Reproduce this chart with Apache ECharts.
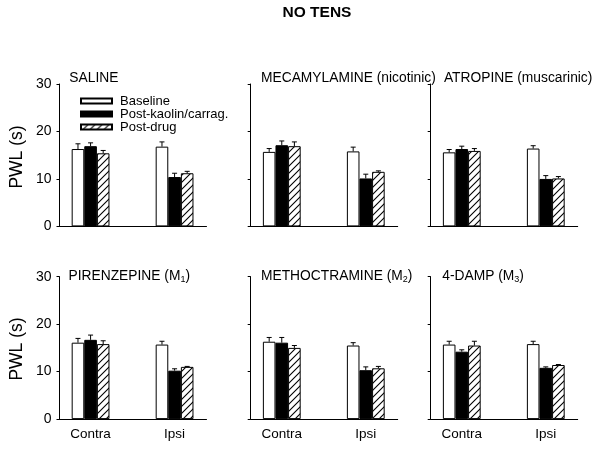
<!DOCTYPE html>
<html>
<head>
<meta charset="utf-8">
<script src="https://cdn.jsdelivr.net/npm/echarts@6/dist/echarts.min.js"></script>
<style>
html,body{margin:0;padding:0;background:#fff;}
#chart{width:600px;height:451px;}
</style>
</head>
<body>
<div id="chart"></div>
<script>
// ---------- DATA ----------
const categories = ['Contra', 'Ipsi'];
const seriesNames = ['Baseline', 'Post-kaolin/carrag.', 'Post-drug'];
const yTicks = [0, 10, 20, 30];
const panelTitles = [
  '{n|SALINE}',
  '{n|MECAMYLAMINE (nicotinic)}',
  '{n|ATROPINE (muscarinic)}',
  '{n|PIRENZEPINE (M}{s|1}{n|)}',
  '{n|METHOCTRAMINE (M}{s|2}{n|)}',
  '{n|4-DAMP (M}{s|3}{n|)}'
];
// means [Contra, Ipsi] per panel
const baseline    = [[16.3,16.8],[15.7,15.8],[15.6,16.4],[16.1,15.7],[16.3,15.5],[15.7,15.8]];
const postKaolin  = [[16.9,10.4],[17.1,10.1],[16.3,10.0],[16.7,10.2],[16.1,10.3],[14.2,10.8]];
const postDrug    = [[15.4,11.2],[16.9,11.5],[15.9,10.1],[15.8,11.0],[15.0,10.7],[15.5,11.4]];
// SEM
const baselineSem   = [[1.1,1.0],[0.7,0.9],[0.6,0.6],[0.9,0.7],[0.9,0.6],[0.7,0.6]];
const postKaolinSem = [[0.7,0.8],[0.9,0.9],[0.6,0.7],[1.0,0.4],[1.1,0.7],[0.4,0.2]];
const postDrugSem   = [[0.6,0.4],[0.9,0.2],[0.5,0.4],[0.7,0.1],[0.5,0.4],[0.9,0.1]];

// ---------- STYLE / LAYOUT ----------
const FONT = '"Liberation Sans", Arial, sans-serif';
const BAR_W = 12.6;
const CAP = 5;
const gridLefts = [59.5, 250.7, 430.7];
const gridTops = [84, 276.7];
const GRID_W = 147, GRID_H = 142.4;
const titleOffsets = [[9.8, 10.3, 13.2], [9, 10.3, 11.6]];

function hatch() {
  const s = 7;
  const c = document.createElement('canvas');
  c.width = s; c.height = s;
  const ctx = c.getContext('2d');
  ctx.fillStyle = '#fff'; ctx.fillRect(0, 0, s, s);
  ctx.strokeStyle = '#000'; ctx.lineWidth = 1.1;
  ctx.beginPath();
  ctx.moveTo(0, s); ctx.lineTo(s, 0);
  ctx.moveTo(-1, 1); ctx.lineTo(1, -1);
  ctx.moveTo(s - 1, s + 1); ctx.lineTo(s + 1, s - 1);
  ctx.stroke();
  return c;
}
const hatchImg = hatch();
const barStyles = [
  {color: '#fff', borderColor: '#000', borderWidth: 1},
  {color: '#000', borderColor: '#000', borderWidth: 1},
  {color: {image: hatchImg, repeat: 'repeat'}, borderColor: '#000', borderWidth: 1}
];
const means = [baseline, postKaolin, postDrug];
const sems = [baselineSem, postKaolinSem, postDrugSem];
const catIdx = categories.map((c, i) => i);

const grids = [], xAxes = [], yAxes = [], series = [], titles = [];
for (let p = 0; p < 6; p++) {
  const row = Math.floor(p / 3), col = p % 3;
  grids.push({left: gridLefts[col], top: gridTops[row], width: GRID_W, height: GRID_H, containLabel: false});
  xAxes.push({
    gridIndex: p, type: 'value', min: -0.37, max: 1.38,
    axisLine: {show: true, onZero: false, lineStyle: {color: '#000', width: 1}},
    axisTick: {show: false}, splitLine: {show: false},
    axisLabel: {
      show: row === 1, color: '#000', fontSize: 13.5, fontFamily: FONT, margin: 8,
      customValues: catIdx,
      formatter: v => categories[Math.round(v)] || ''
    }
  });
  yAxes.push({
    gridIndex: p, type: 'value', min: yTicks[0], max: yTicks[yTicks.length - 1], interval: 10,
    axisLine: {show: true, onZero: false, lineStyle: {color: '#000', width: 1}},
    axisTick: {show: true, length: 3, lineStyle: {color: '#000'}},
    splitLine: {show: false},
    axisLabel: {show: col === 0, color: '#000', fontSize: 14, fontFamily: FONT, margin: 8}
  });
  for (let s = 0; s < 3; s++) {
    series.push({
      type: 'bar', name: seriesNames[s], xAxisIndex: p, yAxisIndex: p,
      barWidth: BAR_W, barGap: '0%',
      itemStyle: barStyles[s],
      data: categories.map((c, i) => [i, means[s][p][i]]),
      animation: false, silent: true
    });
  }
  const errData = [];
  for (let s = 0; s < 3; s++) for (let i = 0; i < categories.length; i++) {
    errData.push([s, i, means[s][p][i], means[s][p][i] + sems[s][p][i]]);
  }
  series.push({
    type: 'custom', xAxisIndex: p, yAxisIndex: p, z: 5, animation: false, silent: true,
    encode: {x: 1, y: [2, 3]},
    data: errData,
    renderItem: function (params, api) {
      const k = api.value(0), x = api.value(1), m = api.value(2), t = api.value(3);
      const p0 = api.coord([x, m]), p1 = api.coord([x, t]);
      const cx = p0[0] + (k - 1) * BAR_W;
      const st = {stroke: '#000', lineWidth: 1};
      return {type: 'group', children: [
        {type: 'line', shape: {x1: cx, y1: p0[1], x2: cx, y2: p1[1]}, style: st},
        {type: 'line', shape: {x1: cx - CAP / 2, y1: p1[1], x2: cx + CAP / 2, y2: p1[1]}, style: st}
      ]};
    }
  });
  titles.push({
    text: panelTitles[p],
    left: gridLefts[col] + titleOffsets[row][col],
    top: row === 0 ? 70 : 268,
    padding: 0,
    textStyle: {
      fontWeight: 'normal',
      rich: {
        n: {fontSize: 13.8, fontFamily: FONT, color: '#000', fontWeight: 'normal', lineHeight: 16},
        s: {fontSize: 9, fontFamily: FONT, color: '#000', fontWeight: 'normal', lineHeight: 9, verticalAlign: 'bottom'}
      }
    }
  });
}
titles.unshift({
  text: 'NO TENS', left: 317, top: 5, padding: 0,
  textAlign: 'center',
  textStyle: {fontSize: 15.5, fontWeight: 'bold', fontFamily: FONT, color: '#000'}
});

const chart = echarts.init(document.getElementById('chart'), null, {renderer: 'canvas'});
chart.setOption({
  backgroundColor: '#fff',
  animation: false,
  title: titles,
  legend: {
    data: seriesNames, left: 80, top: 94.5, orient: 'vertical', padding: 0,
    itemWidth: 31, itemHeight: 5, itemGap: 0, icon: 'rect', selectedMode: false,
    textStyle: {fontSize: 13, fontFamily: FONT, color: '#000', lineHeight: 12.2, padding: [0, 0, 0, 3]}
  },
  grid: grids, xAxis: xAxes, yAxis: yAxes, series: series,
  graphic: [
    {type: 'text', x: 17, y: 157, rotation: Math.PI / 2,
     style: {text: 'PWL (s)', fontSize: 17.5, fontFamily: FONT, fill: '#000', align: 'center', verticalAlign: 'middle'}},
    {type: 'text', x: 17, y: 349, rotation: Math.PI / 2,
     style: {text: 'PWL (s)', fontSize: 17.5, fontFamily: FONT, fill: '#000', align: 'center', verticalAlign: 'middle'}}
  ]
});
</script>
</body>
</html>
